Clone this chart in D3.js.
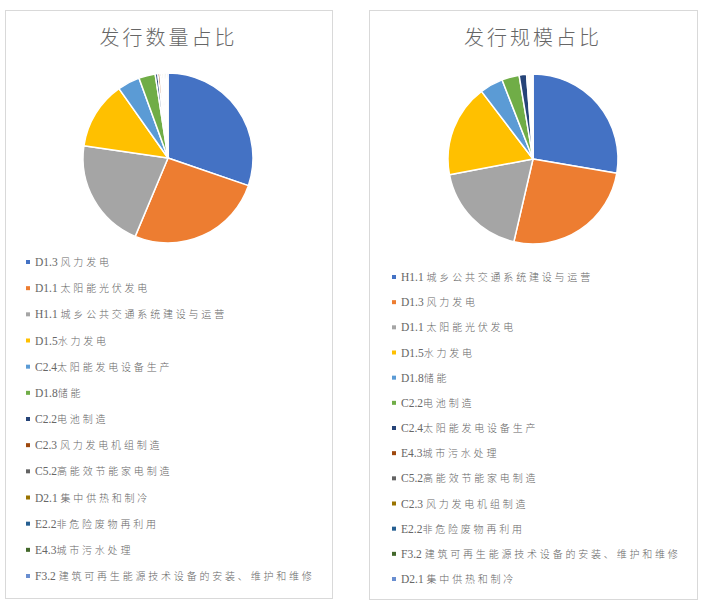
<!DOCTYPE html>
<html>
<head>
<meta charset="utf-8">
<script src="https://cdn.jsdelivr.net/npm/d3@7"></script>
<style>
  body { margin: 0; background: #fff; }
  svg { display: block; }
</style>
</head>
<body>
<div id="chart"></div>
<script>
// 发行数量占比
var countCategories = ["D1.3 风力发电", "D1.1 太阳能光伏发电", "H1.1 城乡公共交通系统建设与运营", "D1.5水力发电",
  "C2.4太阳能发电设备生产", "D1.8储能", "C2.2电池制造", "C2.3 风力发电机组制造", "C5.2高能效节能家电制造",
  "D2.1 集中供热和制冷", "E2.2非危险废物再利用", "E4.3城市污水处理", "F3.2 建筑可再生能源技术设备的安装、维护和维修"];
var countValues = [30.0, 25.8, 20.8, 12.8, 4.2, 3.1, 0.5, 0.4, 0.3, 0.3, 0.3, 0.3, 0.3];

// 发行规模占比
var sizeCategories = ["H1.1 城乡公共交通系统建设与运营", "D1.3 风力发电", "D1.1 太阳能光伏发电", "D1.5水力发电",
  "D1.8储能", "C2.2电池制造", "C2.4太阳能发电设备生产", "E4.3城市污水处理", "C5.2高能效节能家电制造",
  "C2.3 风力发电机组制造", "E2.2非危险废物再利用", "F3.2 建筑可再生能源技术设备的安装、维护和维修", "D2.1 集中供热和制冷"];
var sizeValues = [27.5, 25.8, 18.3, 17.5, 4.4, 3.3, 1.4, 0.3, 0.3, 0.2, 0.2, 0.1, 0.1];

var palette = ["#4472C4", "#ED7D31", "#A5A5A5", "#FFC000", "#5B9BD5", "#70AD47",
  "#264478", "#9E480E", "#636363", "#997300", "#255E91", "#43682B", "#698ED0"];

var width = 707, height = 611;
var svg = d3.select("#chart").append("svg")
  .attr("width", width)
  .attr("height", height);

var pie = d3.pie().sort(null).value(function(d) { return d; });
var arc = d3.arc().innerRadius(0).outerRadius(85);

function drawPanel(opts) {
  var g = svg.append("g").attr("transform", "translate(" + opts.x + "," + opts.y + ")");
  g.append("rect")
    .attr("x", 0.5).attr("y", 0.5)
    .attr("width", opts.w).attr("height", opts.h)
    .attr("fill", "#fff")
    .attr("stroke", "#d9d9d9")
    .attr("stroke-width", 1);

  g.append("text")
    .attr("x", opts.w / 2)
    .attr("y", 35)
    .attr("text-anchor", "middle")
    .attr("font-family", "'Noto Sans CJK SC', sans-serif")
    .attr("font-size", 20)
    .attr("font-weight", 300)
    .attr("letter-spacing", 3)
    .attr("fill", "#666")
    .text(opts.title);

  var color = d3.scaleOrdinal().domain(opts.categories).range(palette);

  var pg = g.append("g").attr("transform", "translate(" + opts.cx + "," + opts.cy + ")");
  pg.selectAll("path")
    .data(pie(opts.values))
    .enter().append("path")
    .attr("d", arc)
    .attr("fill", function(d, i) { return color(opts.categories[i]); })
    .attr("stroke", "#fff")
    .attr("stroke-width", 1.5)
    .attr("stroke-linejoin", "round");

  var ly = d3.scalePoint()
    .domain(opts.categories)
    .range([opts.legendTop, opts.legendBottom]);

  var items = g.selectAll(".leg")
    .data(opts.categories)
    .enter().append("g")
    .attr("class", "leg")
    .attr("transform", function(d) { return "translate(" + opts.lx + "," + ly(d) + ")"; });

  items.append("rect")
    .attr("x", -2).attr("y", -2)
    .attr("width", 4).attr("height", 4)
    .attr("fill", function(d) { return color(d); });

  var t = items.append("text")
    .attr("x", 7)
    .attr("y", 4)
    .attr("font-size", 11)
    .attr("fill", "#666");
  t.each(function(d) {
    var m = d.match(/^([A-Z0-9.]+\s?)(.*)$/);
    var sel = d3.select(this);
    sel.append("tspan")
      .attr("font-family", "'Liberation Serif', serif")
      .attr("font-size", 11.5)
      .text(m[1].replace(/\s/, "\u00a0"));
    sel.append("tspan")
      .attr("font-family", "'Noto Sans CJK SC', sans-serif")
      .attr("font-size", 10)
      .attr("letter-spacing", 2.8)
      .attr("font-weight", 300)
      .text(m[2]);
  });
}

drawPanel({
  x: 5, y: 10, w: 327, h: 588,
  title: "发行数量占比",
  categories: countCategories, values: countValues,
  cx: 163, cy: 148,
  lx: 23, legendTop: 252, legendBottom: 566
});

drawPanel({
  x: 369, y: 10, w: 328, h: 589,
  title: "发行规模占比",
  categories: sizeCategories, values: sizeValues,
  cx: 164, cy: 149,
  lx: 25, legendTop: 267, legendBottom: 569
});
</script>
</body>
</html>
